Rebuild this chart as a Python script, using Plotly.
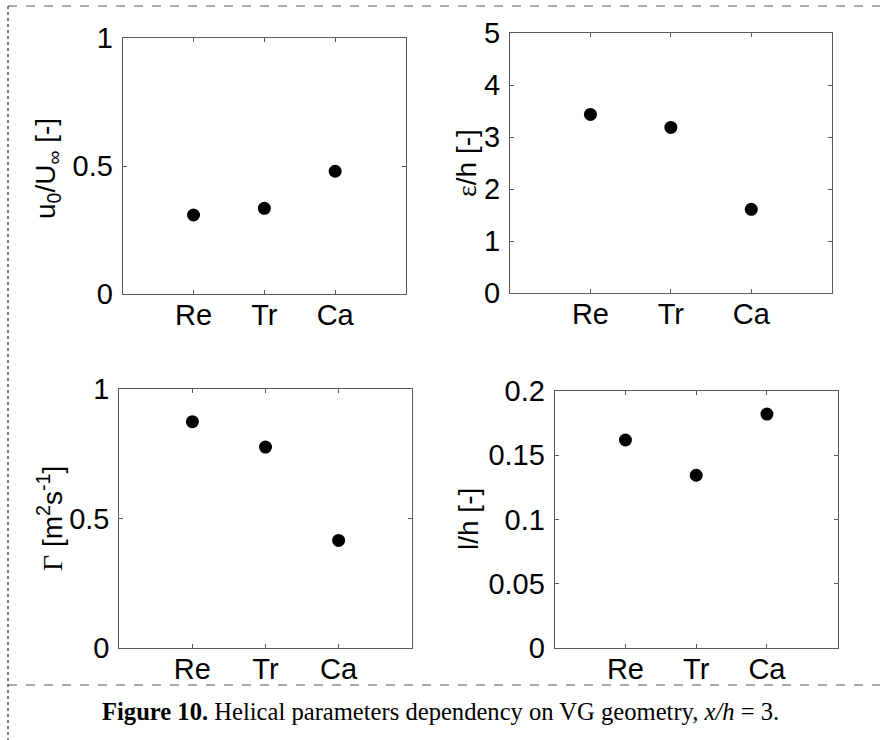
import plotly.graph_objects as go

categories = ["Re", "Tr", "Ca"]
u0_ratio = [0.309, 0.335, 0.480]
eps_h = [3.44, 3.19, 1.615]
gamma = [0.874, 0.776, 0.416]
l_h = [0.1619, 0.1345, 0.1821]

W, H = 880, 740

def px_x(p):
    return p / W

def px_y(p):
    return 1 - p / H

panels = [
    (u0_ratio, (122.7, 406.0), (38.3, 294.0), [0, 1], [0, 0.5, 1], ["0", "0.5", "1"],
     "u<sub>0</sub>/U<sub>\u221e</sub> [-]", 47, 169),
    (eps_h, (510.0, 831.7), (33.3, 293.3), [0, 5], [0, 1, 2, 3, 4, 5], ["0", "1", "2", "3", "4", "5"],
     "<span style='font-family:Liberation Serif'>\u03b5</span>/h [-]", 467, 163),
    (gamma, (119.3, 411.7), (389.0, 648.3), [0, 1], [0, 0.5, 1], ["0", "0.5", "1"],
     "<span style='font-family:Liberation Serif'>\u0393</span> [m<sup>2</sup>s<sup>-1</sup>]", 50, 519),
    (l_h, (554.7, 837.7), (391.0, 648.3), [0, 0.2], [0, 0.05, 0.1, 0.15, 0.2],
     ["0", "0.05", "0.1", "0.15", "0.2"], "l/h [-]", 468, 519),
]

fig = go.Figure()
tick_font = dict(family="Liberation Sans, Arial", size=29, color="black")
frame_col = "#5a5a5a"

annotations = []
for i, (vals, xd, yd, yr, ytv, ytt, title, tx, ty) in enumerate(panels):
    n = "" if i == 0 else str(i + 1)
    fig.add_trace(go.Scatter(
        x=[1, 2, 3], y=vals, mode="markers",
        marker=dict(color="black", size=13, line=dict(width=0)),
        xaxis="x" + n, yaxis="y" + n, showlegend=False,
    ))
    fig.layout["xaxis" + n] = dict(
        domain=[px_x(xd[0]), px_x(xd[1])], range=[0, 4],
        tickvals=[1, 2, 3], ticktext=categories,
        ticks="inside", ticklen=4, tickcolor=frame_col, tickwidth=1,
        showline=True, linecolor=frame_col, linewidth=1, mirror="ticks",
        showgrid=False, zeroline=False, tickfont=tick_font,
        anchor="y" + n, fixedrange=True, automargin=False, ticklabelstandoff=-5,
    )
    fig.layout["yaxis" + n] = dict(
        domain=[px_y(yd[1]), px_y(yd[0])], range=yr,
        tickvals=ytv, ticktext=ytt,
        ticks="inside", ticklen=4, tickcolor=frame_col, tickwidth=1,
        showline=True, linecolor=frame_col, linewidth=1, mirror="ticks",
        showgrid=False, zeroline=False, tickfont=tick_font,
        anchor="x" + n, fixedrange=True, ticklabelstandoff=3, automargin=False,
    )
    annotations.append(dict(
        text=title, x=px_x(tx), y=px_y(ty), xref="paper", yref="paper",
        textangle=-90, showarrow=False, xanchor="center", yanchor="middle",
        font=dict(family="Liberation Sans, Arial", size=28, color="black"),
    ))

annotations.append(dict(
    text="<b>Figure 10.</b> Helical parameters dependency on VG geometry, <i>x/h</i> = 3.",
    x=px_x(440), y=px_y(711), xref="paper", yref="paper", showarrow=False,
    xanchor="center", yanchor="middle",
    font=dict(family="Liberation Serif, Times New Roman", size=24.6, color="black"),
))

shapes = [
    dict(type="line", xref="paper", yref="paper", x0=px_x(8), x1=1, y0=px_y(6), y1=px_y(6),
         line=dict(color="#555555", width=1, dash="dash")),
    dict(type="line", xref="paper", yref="paper", x0=px_x(8), x1=1, y0=px_y(685), y1=px_y(685),
         line=dict(color="#555555", width=1, dash="dash")),
    dict(type="line", xref="paper", yref="paper", x0=px_x(8), x1=px_x(8), y0=px_y(6), y1=0,
         line=dict(color="#555555", width=1.5, dash="dot")),
]

fig.update_layout(
    template="none",
    width=W, height=H, margin=dict(l=0, r=0, t=0, b=0, pad=0),
    paper_bgcolor="white", plot_bgcolor="white",
    annotations=annotations, shapes=shapes,
)

fig.write_html(
    "out.html",
    config={"displayModeBar": False},
    post_script="document.body.style.margin='0';document.body.style.overflow='hidden';",
)
